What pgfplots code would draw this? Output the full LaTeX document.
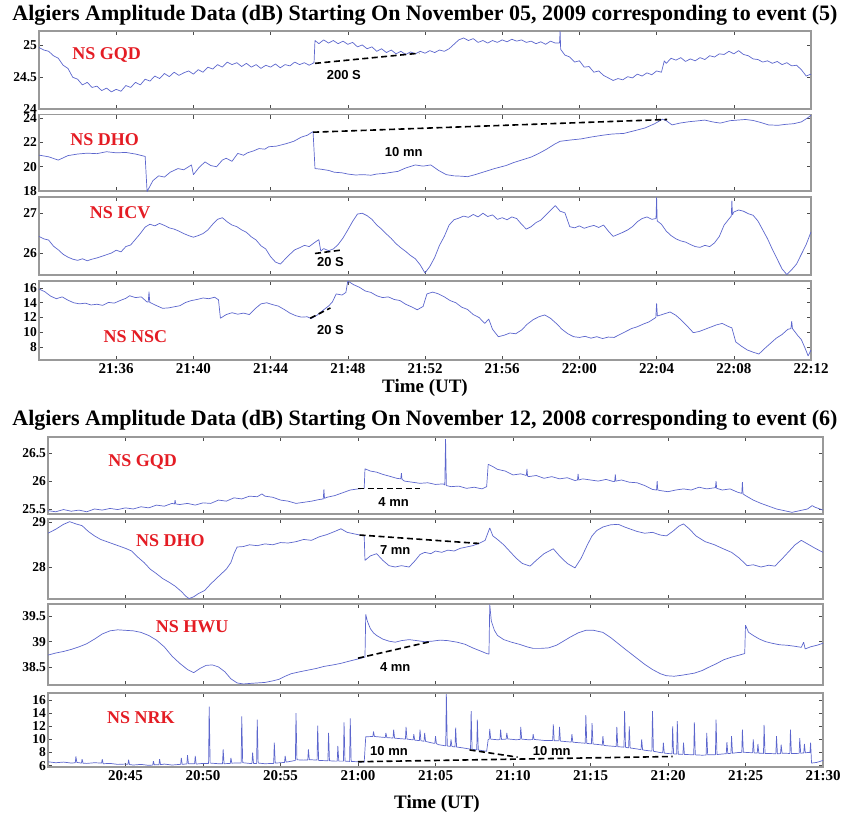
\documentclass[border=0pt]{standalone}
\usepackage{fontspec}
\setmainfont{Liberation Serif}
\newfontfamily\sansf{Liberation Sans}
\usepackage{pgfplots}
\pgfplotsset{compat=1.18}
\definecolor{tracecol}{RGB}{92,102,205}
\definecolor{lblred}{RGB}{228,28,36}
\tikzset{
 redlab/.style={font=\fontsize{18}{18}\selectfont\bfseries, text=lblred},
 smlab/.style={font=\sansf\bfseries\fontsize{13}{13}\selectfont, text=black},
}
\pgfplotsset{
 panel/.style={scale only axis, anchor=south west,
   axis line style={draw=black!40, line width=1.3pt},
   tick align=inside, major tick length=4pt,
   tick style={draw=black!70, line width=0.6pt},
   xtick pos=both, ytick pos=both,
   yticklabel style={font=\fontsize{13.5}{13.5}\selectfont\bfseries, xshift=1.5pt},
   xticklabel style={font=\fontsize{15}{15}\selectfont\bfseries},
   /pgf/number format/assume math mode=true},
 trace/.style={color=tracecol, line width=0.7pt, no marks, line join=bevel},
 dline/.style={black, line width=1.6pt, dash pattern=on 6pt off 3.5pt, no marks},
 toppanel/.style={panel, width=772pt, xmin=32, xmax=72, xtick={36,40,...,72}, xticklabels={}},
 botpanel/.style={panel, width=775pt, xmin=40, xmax=90, xtick={45,50,...,90}, xticklabels={}},
}
\begin{document}
\begin{tikzpicture}
\path[use as bounding box] (0pt,0pt) rectangle (843pt,-814pt);
\node[font=\fontsize{22}{22}\selectfont\bfseries] at (425pt,-15pt) {Algiers Amplitude Data (dB) Starting On November 05, 2009 corresponding to event (5)};
\node[font=\fontsize{22}{22}\selectfont\bfseries] at (425pt,-420pt) {Algiers Amplitude Data (dB) Starting On November 12, 2008 corresponding to event (6)};
\node[font=\fontsize{19}{19}\selectfont\bfseries] at (425pt,-388pt) {Time (UT)};
\node[font=\fontsize{19}{19}\selectfont\bfseries] at (437pt,-804pt) {Time (UT)};

% ---------- P1 GQD (2009) ----------
\begin{axis}[toppanel, at={(39pt,-109pt)}, height=78pt, ymin=24, ymax=25.23, ytick={24,24.5,25}]
\addplot[trace] coordinates {(32.00,24.97)(32.25,24.93)(32.50,24.91)(32.75,24.84)(33.00,24.80)(33.25,24.69)(33.50,24.64)(33.75,24.50)(34.00,24.47)(34.25,24.38)(34.50,24.42)(34.75,24.34)(35.00,24.36)(35.25,24.29)(35.50,24.33)(35.75,24.27)(36.00,24.31)(36.25,24.28)(36.50,24.37)(36.75,24.34)(37.00,24.42)(37.25,24.38)(37.50,24.47)(37.75,24.44)(38.00,24.52)(38.25,24.48)(38.50,24.56)(38.75,24.51)(39.00,24.58)(39.25,24.53)(39.50,24.57)(39.75,24.60)(40.00,24.55)(40.25,24.62)(40.50,24.58)(40.75,24.66)(41.00,24.63)(41.25,24.70)(41.50,24.66)(41.75,24.74)(42.00,24.70)(42.25,24.73)(42.50,24.67)(42.75,24.72)(43.00,24.66)(43.25,24.70)(43.50,24.64)(43.75,24.69)(44.00,24.66)(44.25,24.71)(44.50,24.65)(44.75,24.70)(45.00,24.68)(45.25,24.74)(45.50,24.70)(45.75,24.73)(46.00,24.69)(46.25,24.73)(46.30,25.08)(46.50,25.03)(46.75,25.09)(47.00,25.04)(47.25,25.08)(47.50,25.03)(47.75,25.07)(48.00,25.02)(48.25,25.05)(48.50,24.98)(48.75,25.01)(49.00,24.95)(49.25,24.98)(49.50,24.91)(49.75,24.95)(50.00,24.89)(50.25,24.93)(50.50,24.87)(50.75,24.91)(51.00,24.86)(51.25,24.90)(51.50,24.87)(51.75,24.91)(52.00,24.88)(52.25,24.92)(52.50,24.89)(52.75,24.93)(53.00,24.91)(53.25,24.95)(53.50,25.02)(53.75,25.09)(54.00,25.12)(54.25,25.08)(54.50,25.11)(54.75,25.05)(55.00,25.08)(55.25,25.04)(55.50,25.08)(55.75,25.05)(56.00,25.09)(56.25,25.06)(56.50,25.10)(56.75,25.07)(57.00,25.09)(57.25,25.05)(57.50,25.07)(57.75,25.03)(58.00,25.06)(58.25,25.02)(58.50,25.07)(58.75,25.04)(58.97,25.04)(59.00,25.23)(59.03,24.94)(59.25,24.85)(59.50,24.82)(59.75,24.74)(60.00,24.76)(60.25,24.66)(60.50,24.67)(60.75,24.58)(61.00,24.60)(61.25,24.53)(61.50,24.49)(61.75,24.45)(62.00,24.48)(62.25,24.46)(62.50,24.51)(62.75,24.49)(63.00,24.55)(63.25,24.52)(63.50,24.57)(63.75,24.54)(64.00,24.60)(64.25,24.58)(64.40,24.76)(64.50,24.72)(64.75,24.80)(65.00,24.77)(65.25,24.81)(65.50,24.75)(65.75,24.79)(66.00,24.76)(66.25,24.81)(66.50,24.78)(66.75,24.84)(67.00,24.82)(67.25,24.87)(67.50,24.86)(67.75,24.91)(68.00,24.87)(68.25,24.92)(68.50,24.86)(68.75,24.84)(69.00,24.79)(69.25,24.78)(69.50,24.74)(69.75,24.76)(70.00,24.72)(70.25,24.75)(70.50,24.70)(70.75,24.73)(71.00,24.68)(71.25,24.69)(71.50,24.62)(71.75,24.52)(72.00,24.55)};
\addplot[dline] coordinates {(46.3,24.72) (51.7,24.88)};
\node[smlab] at (axis cs:47.8,24.54) {200 S};
\node[redlab] at (axis cs:35.5,24.85) {NS GQD};
\end{axis}

% ---------- P2 DHO (2009) ----------
\begin{axis}[toppanel, at={(39pt,-191pt)}, height=76.5pt, ymin=18, ymax=24.31, ytick={18,20,22,24}]
\addplot[trace] coordinates {(32.0,20.96)(32.5,20.82)(33.0,20.55)(33.5,20.92)(34.0,21.05)(34.5,21.12)(35.0,21.08)(35.5,21.24)(36.0,21.15)(36.5,21.18)(37.0,21.05)(37.5,20.85)(37.6,17.95)(37.9,18.85)(38.2,19.25)(38.5,19.15)(38.8,19.55)(39.2,19.85)(39.5,19.75)(39.9,20.15)(40.0,19.35)(40.3,19.95)(40.6,20.40)(40.9,20.10)(41.2,20.00)(41.5,20.55)(41.7,20.70)(42.0,20.45)(42.3,21.10)(42.6,20.95)(42.8,21.15)(43.1,21.30)(43.4,21.50)(43.7,21.45)(43.9,21.65)(44.3,21.70)(44.8,21.90)(45.2,22.10)(45.6,22.45)(45.9,22.60)(46.2,22.90)(46.3,19.85)(46.6,19.80)(47.0,19.70)(47.3,19.55)(47.7,19.50)(48.0,19.40)(48.4,19.32)(48.8,19.35)(49.2,19.30)(49.5,19.40)(49.9,19.45)(50.3,19.55)(50.6,19.62)(51.0,19.90)(51.5,20.15)(51.9,20.05)(52.3,20.15)(52.7,19.70)(53.1,19.35)(53.5,19.25)(53.9,19.22)(54.2,19.18)(54.6,19.35)(55.1,19.60)(55.6,19.85)(56.2,20.10)(56.6,20.35)(57.0,20.55)(57.5,20.80)(57.9,21.10)(58.3,21.45)(58.7,21.85)(59.0,22.10)(59.5,22.20)(60.1,22.30)(60.6,22.45)(61.2,22.60)(61.7,22.70)(62.3,22.75)(62.8,22.95)(63.4,23.20)(63.9,23.55)(64.3,23.92)(64.5,23.80)(64.8,23.45)(65.2,23.60)(65.7,23.72)(66.1,23.78)(66.5,23.85)(66.9,23.70)(67.3,23.60)(67.8,23.80)(68.2,23.85)(68.6,23.90)(69.0,23.82)(69.4,23.65)(69.8,23.45)(70.3,23.42)(70.7,23.50)(71.1,23.55)(71.5,23.70)(71.8,24.00)(72.0,24.25)};
\addplot[dline] coordinates {(46.2,22.85) (64.55,23.9)};
\node[smlab] at (axis cs:50.9,21.2) {10 mn};
\node[redlab] at (axis cs:35.4,22.2) {NS DHO};
\end{axis}

% ---------- P3 ICV (2009) ----------
\begin{axis}[toppanel, at={(39pt,-275pt)}, height=78pt, ymin=25.47, ymax=27.39, ytick={26,27}]
\addplot[trace] coordinates {(32.00,26.42)(32.25,26.36)(32.50,26.33)(32.75,26.18)(33.00,26.09)(33.25,25.98)(33.50,25.91)(33.75,25.86)(34.00,25.83)(34.25,25.87)(34.50,25.82)(34.75,25.86)(35.00,25.89)(35.25,25.93)(35.50,25.97)(35.75,26.01)(36.00,26.08)(36.25,26.04)(36.50,26.17)(36.75,26.21)(37.00,26.35)(37.25,26.49)(37.50,26.65)(37.75,26.72)(38.00,26.68)(38.25,26.74)(38.50,26.69)(38.75,26.63)(39.00,26.60)(39.25,26.55)(39.50,26.49)(39.75,26.44)(40.00,26.40)(40.25,26.44)(40.50,26.49)(40.75,26.58)(41.00,26.72)(41.25,26.84)(41.50,26.88)(41.75,26.78)(42.00,26.70)(42.25,26.66)(42.50,26.58)(42.75,26.52)(43.00,26.41)(43.25,26.33)(43.50,26.19)(43.75,26.11)(44.00,25.92)(44.25,25.79)(44.50,25.74)(44.75,25.86)(45.00,25.98)(45.25,26.09)(45.50,26.14)(45.75,26.20)(46.00,26.17)(46.25,26.26)(46.50,26.34)(46.60,26.06)(46.75,26.12)(47.00,26.07)(47.25,26.11)(47.50,26.22)(47.75,26.38)(48.00,26.58)(48.25,26.79)(48.50,26.97)(48.75,26.99)(49.00,26.93)(49.25,26.84)(49.50,26.70)(49.75,26.60)(50.00,26.48)(50.25,26.37)(50.50,26.24)(50.75,26.14)(51.00,26.05)(51.25,25.95)(51.50,25.87)(51.75,25.72)(52.00,25.52)(52.25,25.68)(52.50,25.90)(52.75,26.20)(53.00,26.42)(53.25,26.70)(53.50,26.83)(53.75,26.87)(54.00,26.92)(54.25,26.89)(54.50,26.96)(54.75,26.90)(55.00,26.99)(55.25,26.91)(55.50,26.95)(55.75,26.84)(56.00,26.88)(56.25,26.83)(56.50,26.90)(56.75,26.86)(57.00,26.72)(57.25,26.60)(57.50,26.66)(57.75,26.76)(58.00,26.82)(58.25,26.94)(58.50,27.06)(58.75,27.18)(59.00,27.04)(59.25,27.00)(59.50,26.66)(59.75,26.63)(60.00,26.68)(60.25,26.62)(60.50,26.66)(60.75,26.69)(61.00,26.64)(61.25,26.70)(61.50,26.55)(61.75,26.42)(62.00,26.47)(62.25,26.52)(62.50,26.58)(62.75,26.66)(63.00,26.78)(63.25,26.86)(63.50,26.90)(63.75,26.84)(63.97,26.86)(64.00,27.38)(64.03,26.80)(64.25,26.72)(64.50,26.55)(64.75,26.44)(65.00,26.36)(65.25,26.31)(65.50,26.28)(65.75,26.22)(66.00,26.17)(66.25,26.15)(66.50,26.20)(66.75,26.17)(67.00,26.26)(67.25,26.42)(67.50,26.70)(67.75,26.85)(67.87,26.92)(67.90,27.30)(67.93,26.95)(68.00,27.02)(68.25,27.07)(68.50,27.04)(68.75,26.98)(69.00,26.94)(69.25,26.80)(69.50,26.58)(69.75,26.36)(70.00,26.10)(70.25,25.86)(70.50,25.62)(70.75,25.48)(71.00,25.60)(71.25,25.74)(71.50,25.98)(71.75,26.22)(72.00,26.53)};
\addplot[dline] coordinates {(46.3,26.0) (47.6,26.08)};
\node[smlab] at (axis cs:47.1,25.78) {20 S};
\node[redlab] at (axis cs:36.2,27.0) {NS ICV};
\end{axis}

% ---------- P4 NSC (2009) ----------
\begin{axis}[toppanel, at={(39pt,-360pt)}, height=79pt, ymin=6.24, ymax=16.95, ytick={8,10,...,16},
  xticklabels={21:36,21:40,21:44,21:48,21:52,21:56,22:00,22:04,22:08,22:12}]
\addplot[trace] coordinates {(32.0,15.86)(32.3,15.50)(32.6,14.90)(32.9,14.55)(33.2,14.80)(33.5,14.35)(33.8,14.00)(34.1,13.85)(34.4,13.95)(34.7,13.70)(35.0,13.80)(35.3,13.65)(35.6,14.05)(35.9,13.95)(36.2,14.30)(36.5,14.60)(36.7,14.95)(37.0,14.70)(37.3,14.80)(37.6,14.10)(37.66,14.10)(37.7,15.50)(37.74,14.05)(38.1,13.60)(38.4,13.25)(38.7,13.30)(39.0,13.45)(39.3,13.60)(39.6,14.05)(39.9,14.30)(40.2,14.45)(40.5,14.65)(40.8,14.55)(41.1,14.75)(41.3,14.40)(41.4,11.90)(41.7,12.40)(42.0,12.65)(42.3,12.45)(42.6,12.60)(42.9,12.40)(43.2,13.20)(43.5,13.85)(43.8,14.00)(44.1,13.75)(44.4,13.55)(44.7,13.10)(45.0,12.60)(45.3,12.25)(45.6,12.05)(45.9,12.10)(46.1,11.85)(46.4,12.30)(46.7,12.95)(47.0,13.55)(47.2,14.10)(47.4,15.20)(47.7,15.05)(47.9,15.40)(48.0,16.95)(48.3,16.45)(48.6,16.10)(48.9,15.60)(49.2,15.40)(49.5,14.95)(49.8,14.70)(50.1,14.80)(50.4,14.45)(50.7,14.30)(51.0,13.80)(51.3,13.45)(51.6,13.05)(51.9,13.50)(52.1,15.20)(52.4,15.45)(52.7,15.20)(53.0,14.80)(53.3,14.30)(53.6,14.00)(53.9,13.40)(54.2,13.10)(54.5,12.40)(54.8,12.00)(55.1,11.20)(55.3,11.80)(55.5,10.40)(55.8,9.40)(56.1,9.60)(56.4,9.90)(56.7,9.80)(57.0,10.30)(57.3,11.10)(57.6,11.70)(57.9,12.10)(58.2,12.35)(58.5,11.90)(58.8,11.20)(59.1,10.40)(59.4,9.80)(59.7,9.40)(60.0,9.30)(60.3,9.45)(60.6,9.20)(60.9,9.40)(61.2,9.15)(61.5,9.35)(61.8,9.30)(62.1,9.70)(62.4,10.10)(62.7,10.50)(63.0,10.75)(63.3,11.10)(63.6,11.40)(63.96,12.00)(64.0,13.90)(64.04,12.20)(64.4,12.50)(64.7,12.75)(65.0,12.30)(65.3,11.60)(65.6,10.80)(65.9,9.95)(66.2,10.10)(66.5,10.40)(66.8,10.70)(67.1,11.00)(67.4,11.20)(67.7,10.80)(67.9,10.60)(68.1,8.70)(68.4,8.10)(68.7,7.60)(69.0,7.30)(69.3,7.05)(69.6,7.80)(69.9,8.50)(70.2,9.20)(70.5,9.70)(70.8,10.40)(70.96,10.50)(71.0,11.50)(71.04,10.50)(71.3,9.60)(71.5,9.00)(71.7,7.80)(71.85,6.80)(72.0,7.60)};
\addplot[dline] coordinates {(46.05,11.9) (47.1,13.3)};
\node[smlab] at (axis cs:47.1,10.3) {20 S};
\node[redlab] at (axis cs:37.0,9.4) {NS NSC};
\end{axis}

% ---------- P5 GQD (2008) ----------
\begin{axis}[botpanel, at={(48pt,-514pt)}, height=77pt, ymin=25.41, ymax=26.79, ytick={25.5,26,26.5}]
\addplot[trace] coordinates {(40.0,25.47)(40.5,25.45)(41.0,25.49)(41.5,25.46)(42.0,25.48)(42.5,25.45)(43.0,25.50)(43.5,25.48)(44.0,25.51)(44.5,25.49)(45.0,25.52)(45.5,25.50)(46.0,25.54)(46.5,25.52)(47.0,25.57)(47.5,25.55)(48.0,25.60)(48.16,25.59)(48.2,25.66)(48.24,25.59)(48.5,25.58)(49.0,25.60)(49.5,25.57)(50.0,25.61)(50.5,25.60)(51.0,25.66)(51.5,25.64)(52.0,25.70)(52.5,25.68)(53.0,25.73)(53.5,25.72)(53.8,25.77)(54.0,25.73)(54.5,25.71)(55.0,25.66)(55.5,25.64)(56.0,25.60)(56.5,25.62)(57.0,25.64)(57.5,25.67)(57.76,25.68)(57.8,25.85)(57.84,25.69)(58.0,25.71)(58.5,25.74)(59.0,25.79)(59.5,25.84)(60.0,25.86)(60.4,25.87)(60.45,26.22)(60.8,26.18)(61.2,26.16)(61.6,26.12)(62.0,26.09)(62.5,26.05)(62.76,26.04)(62.8,26.14)(62.84,26.03)(63.0,26.00)(63.5,25.98)(64.0,25.96)(64.5,25.97)(65.0,25.94)(65.5,25.95)(65.6,25.93)(65.65,26.75)(65.7,25.92)(66.0,25.90)(66.5,25.91)(67.0,25.87)(67.5,25.89)(68.0,25.86)(68.3,25.90)(68.4,26.30)(68.7,26.26)(69.0,26.21)(69.5,26.18)(70.0,26.11)(70.5,26.13)(70.86,26.10)(70.9,26.22)(70.94,26.09)(71.0,26.08)(71.5,26.10)(72.0,26.05)(72.5,26.08)(73.0,26.04)(73.5,26.06)(74.0,26.01)(74.16,26.02)(74.2,26.13)(74.24,26.02)(74.5,26.04)(75.0,26.02)(75.5,26.00)(76.0,26.03)(76.5,25.99)(76.56,25.99)(76.6,26.12)(76.64,26.00)(77.0,26.02)(77.5,25.98)(78.0,25.97)(78.5,25.92)(79.0,25.85)(79.26,25.84)(79.3,26.00)(79.34,25.84)(79.5,25.83)(80.0,25.81)(80.5,25.84)(81.0,25.86)(81.5,25.84)(82.0,25.89)(82.5,25.86)(83.0,25.88)(83.06,25.88)(83.1,26.00)(83.14,25.87)(83.5,25.84)(84.0,25.86)(84.5,25.80)(84.76,25.78)(84.8,25.98)(84.84,25.77)(85.0,25.74)(85.5,25.66)(86.0,25.60)(86.5,25.55)(87.0,25.50)(87.5,25.47)(88.0,25.44)(88.5,25.47)(89.0,25.50)(89.3,25.56)(89.5,25.53)(90.0,25.48)};
\addplot[dline] coordinates {(60.0,25.87) (64.0,25.87)};
\node[smlab] at (axis cs:62.3,25.62) {4 mn};
\node[redlab] at (axis cs:46.1,26.34) {NS GQD};
\end{axis}

% ---------- P6 DHO (2008) ----------
\begin{axis}[botpanel, at={(48pt,-599pt)}, height=80pt, ymin=27.28, ymax=29.08, ytick={28,29}]
\addplot[trace] coordinates {(40.0,28.76)(40.5,28.85)(41.0,28.96)(41.4,29.02)(41.8,28.97)(42.2,28.93)(42.6,28.80)(43.0,28.70)(43.4,28.62)(43.8,28.57)(44.2,28.52)(44.6,28.47)(45.0,28.42)(45.4,28.36)(45.8,28.22)(46.2,28.10)(46.6,27.95)(47.0,27.85)(47.4,27.74)(47.8,27.66)(48.2,27.57)(48.6,27.45)(48.9,27.34)(49.1,27.29)(49.4,27.33)(49.7,27.40)(50.1,27.47)(50.5,27.62)(50.8,27.72)(51.1,27.82)(51.5,27.95)(51.8,28.10)(52.0,28.30)(52.2,28.45)(52.6,28.46)(53.0,28.50)(53.5,28.48)(54.0,28.52)(54.5,28.50)(55.0,28.55)(55.5,28.54)(56.0,28.57)(56.5,28.62)(57.0,28.60)(57.5,28.68)(58.0,28.73)(58.5,28.80)(58.9,28.86)(59.3,28.78)(59.7,28.75)(60.1,28.72)(60.4,28.70)(60.45,28.15)(60.8,28.25)(61.2,28.30)(61.6,28.15)(62.0,28.03)(62.4,28.00)(62.8,28.03)(63.3,28.00)(63.7,28.15)(64.0,28.28)(64.3,28.33)(64.7,28.30)(65.0,28.36)(65.4,28.33)(65.8,28.38)(66.2,28.36)(66.6,28.42)(67.0,28.45)(67.4,28.48)(67.8,28.53)(68.2,28.60)(68.5,28.88)(68.7,28.70)(69.0,28.62)(69.4,28.50)(69.8,28.35)(70.2,28.20)(70.6,28.08)(71.1,28.02)(71.5,28.15)(72.0,28.30)(72.6,28.41)(73.0,28.25)(73.5,28.08)(74.0,27.98)(74.4,28.20)(74.8,28.50)(75.1,28.70)(75.4,28.82)(75.8,28.90)(76.3,28.95)(76.8,28.96)(77.2,28.90)(77.6,28.85)(78.0,28.80)(78.5,28.76)(79.0,28.78)(79.5,28.72)(79.9,28.70)(80.3,28.80)(80.7,28.92)(81.0,28.97)(81.4,28.85)(81.8,28.70)(82.4,28.57)(83.0,28.50)(83.5,28.42)(84.1,28.33)(84.6,28.20)(85.1,28.03)(85.5,28.05)(86.0,28.00)(86.5,28.04)(86.9,28.02)(87.4,28.20)(87.8,28.35)(88.2,28.50)(88.6,28.60)(89.0,28.52)(89.5,28.42)(90.0,28.33)};
\addplot[dline] coordinates {(60.1,28.72) (67.8,28.53)};
\node[smlab] at (axis cs:62.4,28.38) {7 mn};
\node[redlab] at (axis cs:47.9,28.6) {NS DHO};
\end{axis}

% ---------- P7 HWU (2008) ----------
\begin{axis}[botpanel, at={(48pt,-685pt)}, height=81pt, ymin=38.16, ymax=39.73, ytick={38.5,39,39.5}]
\addplot[trace] coordinates {(40.0,38.74)(40.5,38.78)(41.0,38.81)(41.5,38.85)(42.0,38.90)(42.5,38.96)(43.0,39.05)(43.5,39.15)(44.0,39.21)(44.5,39.23)(45.0,39.22)(45.5,39.21)(46.0,39.18)(46.5,39.12)(47.0,39.03)(47.5,38.90)(48.0,38.72)(48.5,38.58)(49.0,38.46)(49.4,38.40)(49.8,38.48)(50.2,38.54)(50.6,38.55)(51.0,38.51)(51.4,38.42)(51.8,38.28)(52.2,38.20)(52.6,38.18)(53.0,38.19)(53.5,38.20)(54.0,38.21)(54.5,38.24)(54.9,38.27)(55.3,38.33)(55.7,38.38)(56.3,38.42)(56.8,38.45)(57.3,38.48)(57.8,38.52)(58.4,38.55)(58.9,38.58)(59.4,38.62)(59.8,38.65)(60.2,38.68)(60.45,38.70)(60.5,39.53)(60.6,39.40)(60.8,39.25)(61.0,39.17)(61.2,39.12)(61.6,39.05)(62.0,39.01)(62.4,38.99)(62.8,39.02)(63.3,39.04)(63.8,39.02)(64.3,39.00)(64.8,39.01)(65.3,39.03)(65.8,39.02)(66.4,38.99)(66.9,38.95)(67.4,38.88)(67.9,38.82)(68.3,38.77)(68.45,38.76)(68.5,39.72)(68.6,39.40)(68.8,39.22)(69.0,39.12)(69.4,39.04)(69.9,38.99)(70.4,38.95)(70.9,38.90)(71.3,38.87)(71.8,38.87)(72.3,38.88)(72.8,38.93)(73.2,39.00)(73.7,39.09)(74.2,39.17)(74.7,39.22)(75.2,39.22)(75.8,39.18)(76.3,39.08)(76.8,38.96)(77.3,38.84)(77.9,38.70)(78.5,38.56)(79.0,38.46)(79.5,38.38)(79.9,38.34)(80.4,38.33)(80.9,38.35)(81.3,38.37)(81.7,38.39)(82.2,38.44)(82.6,38.50)(83.1,38.57)(83.6,38.65)(84.1,38.70)(84.6,38.74)(84.95,38.77)(85.0,39.32)(85.2,39.18)(85.5,39.12)(85.9,39.05)(86.3,39.00)(86.7,38.97)(87.2,38.94)(87.7,38.93)(88.2,38.91)(88.6,38.89)(88.75,38.99)(88.85,38.86)(89.2,38.90)(89.6,38.93)(90.0,38.97)};
\addplot[dline] coordinates {(60.0,38.68) (64.65,39.0)};
\node[smlab] at (axis cs:62.4,38.5) {4 mn};
\node[redlab] at (axis cs:49.3,39.3) {NS HWU};
\end{axis}

% ---------- P8 NRK (2008) ----------
\begin{axis}[botpanel, at={(48pt,-767pt)}, height=74pt, ymin=5.8, ymax=17.07, ytick={6,8,...,16},
  xticklabels={20:45,20:50,20:55,21:00,21:05,21:10,21:15,21:20,21:25,21:30}]
\addplot[trace] coordinates {(40.0,6.60)(40.5,6.45)(41.0,6.55)(41.5,6.40)(41.76,6.45)(41.8,7.40)(41.86,6.50)(42.16,6.40)(42.2,7.00)(42.26,6.38)(42.5,6.35)(43.0,6.45)(43.46,6.40)(43.5,7.00)(43.56,6.30)(44.0,6.35)(44.5,6.20)(45.0,6.25)(45.16,6.20)(45.2,6.90)(45.26,6.18)(45.5,6.10)(46.0,6.20)(46.5,6.05)(46.76,6.10)(46.8,6.70)(46.86,6.12)(47.0,6.15)(47.16,6.15)(47.2,7.00)(47.26,6.15)(47.5,6.25)(48.0,6.10)(48.5,6.20)(48.56,6.20)(48.6,7.20)(48.66,6.20)(48.96,6.28)(49.0,7.60)(49.06,6.30)(49.46,6.30)(49.5,7.50)(49.56,6.25)(50.0,6.35)(50.36,6.35)(50.4,15.00)(50.46,6.40)(51.0,6.30)(51.26,6.30)(51.3,8.50)(51.36,6.30)(51.76,6.35)(51.8,7.20)(51.86,6.38)(52.0,6.40)(52.46,6.40)(52.5,13.50)(52.56,6.45)(53.0,6.35)(53.16,6.35)(53.2,8.00)(53.26,6.35)(53.46,6.35)(53.5,13.00)(53.56,6.40)(54.0,6.30)(54.56,6.35)(54.6,9.50)(54.66,6.40)(55.0,6.45)(55.26,6.50)(55.3,7.50)(55.36,6.55)(55.5,6.60)(55.96,6.80)(56.0,14.00)(56.06,6.90)(56.5,6.85)(56.76,6.88)(56.8,8.50)(56.86,6.90)(57.0,6.90)(57.36,6.85)(57.4,12.10)(57.46,6.80)(58.06,6.75)(58.1,11.00)(58.16,6.75)(58.5,6.70)(58.66,6.70)(58.7,9.00)(58.76,6.70)(59.06,6.70)(59.1,12.60)(59.16,6.70)(59.46,6.65)(59.5,13.20)(59.56,6.65)(60.0,6.60)(60.4,6.55)(60.5,10.40)(60.96,10.45)(61.0,11.20)(61.06,10.45)(61.5,10.35)(61.76,10.30)(61.8,11.00)(61.86,10.28)(62.0,10.25)(62.26,10.22)(62.3,11.50)(62.36,10.20)(62.8,10.10)(63.06,10.06)(63.1,11.90)(63.16,10.05)(63.5,9.95)(63.56,9.94)(63.6,10.80)(63.66,9.90)(63.96,9.82)(64.0,11.50)(64.06,9.80)(64.26,9.72)(64.3,11.00)(64.36,9.70)(64.8,9.45)(64.96,9.40)(65.0,10.50)(65.06,9.35)(65.2,9.20)(65.66,9.02)(65.7,16.90)(65.76,9.00)(65.96,8.95)(66.0,10.00)(66.06,8.92)(66.26,8.86)(66.3,11.80)(66.36,8.85)(66.8,8.70)(67.26,8.52)(67.3,14.30)(67.36,8.50)(67.66,8.42)(67.7,13.00)(67.76,8.40)(68.0,8.30)(68.3,8.20)(68.4,10.00)(68.46,10.02)(68.5,11.60)(68.56,10.05)(69.0,9.95)(69.16,9.98)(69.2,11.50)(69.26,10.00)(69.56,10.05)(69.6,11.00)(69.66,10.08)(70.2,9.95)(70.46,10.00)(70.5,11.90)(70.56,10.05)(71.0,9.95)(71.26,9.98)(71.3,10.80)(71.36,10.00)(72.0,9.85)(72.56,9.82)(72.6,12.30)(72.66,9.80)(72.96,9.78)(73.0,11.90)(73.06,9.75)(73.5,9.65)(73.76,9.60)(73.8,10.80)(73.86,9.58)(74.0,9.55)(74.66,9.42)(74.7,13.70)(74.76,9.40)(75.06,9.32)(75.1,12.50)(75.16,9.30)(75.6,9.20)(75.76,9.12)(75.8,10.50)(75.86,9.10)(76.0,9.05)(76.66,8.92)(76.7,11.90)(76.76,8.90)(77.16,8.82)(77.2,14.30)(77.26,8.80)(77.46,8.72)(77.5,12.00)(77.56,8.70)(78.0,8.55)(78.26,8.45)(78.3,10.00)(78.36,8.42)(78.5,8.35)(78.96,8.22)(79.0,14.30)(79.06,8.20)(79.5,8.00)(79.66,7.95)(79.7,9.50)(79.76,7.92)(80.0,7.85)(80.26,7.82)(80.3,12.00)(80.36,7.80)(80.56,7.77)(80.6,12.80)(80.66,7.75)(80.96,7.72)(81.0,9.50)(81.06,7.70)(81.2,7.70)(81.66,7.66)(81.7,12.60)(81.76,7.65)(82.2,7.60)(82.46,7.62)(82.5,11.00)(82.56,7.65)(83.06,7.68)(83.1,13.00)(83.16,7.70)(83.6,7.80)(83.76,7.82)(83.8,9.60)(83.86,7.85)(84.06,7.88)(84.1,10.50)(84.16,7.90)(84.5,8.00)(84.76,8.03)(84.8,11.50)(84.86,8.05)(85.2,8.00)(85.46,7.97)(85.5,10.00)(85.56,7.95)(85.76,7.92)(85.8,9.30)(85.86,7.90)(86.0,7.90)(86.16,7.87)(86.2,12.20)(86.26,7.85)(86.6,7.85)(86.96,7.82)(87.0,10.50)(87.06,7.80)(87.26,7.85)(87.3,9.20)(87.36,7.88)(87.5,7.90)(87.86,7.86)(87.9,11.50)(87.96,7.85)(88.46,7.88)(88.5,10.20)(88.56,7.90)(88.76,7.95)(88.8,9.30)(88.86,7.97)(89.0,8.00)(89.16,8.00)(89.2,9.50)(89.26,6.40)(89.6,6.50)(90.0,6.80)};
\addplot[dline] coordinates {(60.0,6.6) (80.3,7.4)};
\addplot[dline] coordinates {(67.2,8.4) (70.3,7.3)};
\node[smlab] at (axis cs:62.0,8.2) {10 mn};
\node[smlab] at (axis cs:72.5,8.2) {10 mn};
\node[redlab] at (axis cs:46.0,13.3) {NS NRK};
\end{axis}
\end{tikzpicture}
\end{document}
